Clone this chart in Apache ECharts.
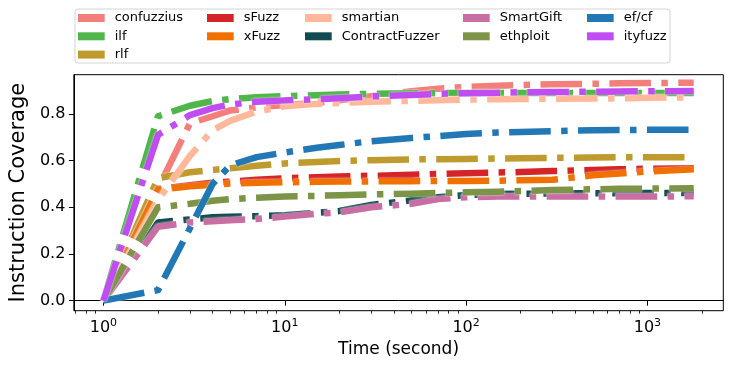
<!DOCTYPE html>
<html>
<head>
<meta charset="utf-8">
<script src="https://cdn.jsdelivr.net/npm/echarts@6/dist/echarts.min.js"></script>
<style>
html, body { margin: 0; padding: 0; background: #fff; }
#chart { width: 731px; height: 365px; }
</style>
</head>
<body>
<div id="chart"></div>
<script>
// time points (seconds) shared by every tool
const times = [1, 2, 3, 4, 5, 7, 10, 15, 20, 30, 50, 70, 100, 150, 200, 300, 500, 700, 1000, 1800]

const confuzzius = [0, 0.48, 0.76, 0.79, 0.815, 0.828, 0.838, 0.847, 0.858, 0.876, 0.897, 0.908, 0.916, 0.921, 0.924, 0.927, 0.929, 0.931, 0.932, 0.934]
const ilf = [0, 0.79, 0.835, 0.855, 0.864, 0.871, 0.876, 0.88, 0.883, 0.886, 0.888, 0.889, 0.89, 0.89, 0.89, 0.89, 0.89, 0.89, 0.89, 0.89]
const rlf = [0, 0.525, 0.55, 0.56, 0.567, 0.578, 0.588, 0.594, 0.598, 0.602, 0.605, 0.606, 0.607, 0.609, 0.61, 0.612, 0.613, 0.614, 0.614, 0.614]
const sFuzz = [0, 0.478, 0.495, 0.505, 0.51, 0.518, 0.524, 0.529, 0.532, 0.535, 0.539, 0.543, 0.546, 0.549, 0.551, 0.555, 0.56, 0.563, 0.565, 0.567]
const xFuzz = [0, 0.475, 0.49, 0.497, 0.502, 0.505, 0.507, 0.509, 0.51, 0.511, 0.512, 0.513, 0.513, 0.514, 0.516, 0.518, 0.537, 0.545, 0.553, 0.563]
const smartian = [0, 0.43, 0.62, 0.73, 0.77, 0.81, 0.833, 0.843, 0.847, 0.852, 0.856, 0.859, 0.861, 0.863, 0.864, 0.865, 0.866, 0.867, 0.869, 0.871]
const contractFuzzer = [0, 0.335, 0.348, 0.357, 0.36, 0.362, 0.366, 0.376, 0.384, 0.41, 0.43, 0.443, 0.452, 0.457, 0.458, 0.459, 0.46, 0.46, 0.461, 0.461]
const smartGift = [0, 0.317, 0.335, 0.34, 0.344, 0.35, 0.36, 0.372, 0.378, 0.4, 0.415, 0.435, 0.443, 0.446, 0.446, 0.446, 0.446, 0.446, 0.446, 0.447]
const ethploit = [0, 0.4, 0.415, 0.428, 0.435, 0.441, 0.446, 0.449, 0.452, 0.455, 0.458, 0.461, 0.464, 0.467, 0.47, 0.474, 0.477, 0.479, 0.48, 0.482]
const efcf = [0, 0.045, 0.31, 0.5, 0.58, 0.615, 0.635, 0.655, 0.667, 0.683, 0.697, 0.705, 0.714, 0.72, 0.723, 0.726, 0.73, 0.731, 0.732, 0.732]
const ityfuzz = [0, 0.71, 0.795, 0.825, 0.84, 0.852, 0.858, 0.863, 0.867, 0.875, 0.881, 0.886, 0.889, 0.891, 0.893, 0.894, 0.895, 0.896, 0.897, 0.898]

// tick labels
const xMajorTicks = [1, 10, 100, 1000]
const xMinorTicks = [0.7, 0.8, 0.9, 2, 3, 4, 5, 6, 7, 8, 9, 20, 30, 40, 50, 60, 70, 80, 90,
  200, 300, 400, 500, 600, 700, 800, 900, 2000]
const yTicks = [0, 0.2, 0.4, 0.6, 0.8]

// draw order = matplotlib plot order
const names = ['confuzzius', 'ilf', 'rlf', 'sFuzz', 'xFuzz', 'smartian', 'ContractFuzzer',
  'SmartGift', 'ethploit', 'ef/cf', 'ityfuzz']
const values = [confuzzius, ilf, rlf, sFuzz, xFuzz, smartian, contractFuzzer,
  smartGift, ethploit, efcf, ityfuzz]
const colors = ['#f27f7a', '#4fb64a', '#bf9a2c', '#d42428', '#f07000', '#ffb99a', '#124c50',
  '#c96ea3', '#7b9447', '#2278b5', '#c04df2']

// legend is filled column by column like matplotlib ncol=5
const legendCols = [
  ['confuzzius', 'ilf', 'rlf'],
  ['sFuzz', 'xFuzz'],
  ['smartian', 'ContractFuzzer'],
  ['SmartGift', 'ethploit'],
  ['ef/cf', 'ityfuzz'],
]
const legendLeft = [78, 207, 305, 463, 587]

const font = 'DejaVu Sans'
const lw = 6.5

const series = names.map((name, i) => ({
  name: name,
  type: 'line',
  data: times.map((t, j) => [t, values[i][j]]),
  showSymbol: false,
  symbol: 'none',
  z: 2 + i,
  itemStyle: { color: colors[i] },
  lineStyle: {
    color: colors[i],
    width: lw,
    type: [6.4 * lw, 1.6 * lw, 1.0 * lw, 1.6 * lw], // dash-dot
    cap: 'butt',
    join: 'round',
    // thin white halo like the path effect in the original
    shadowColor: 'rgba(255,255,255,0.9)',
    shadowBlur: 2,
  },
  emphasis: { disabled: true },
}))

const legends = legendCols.map((col, i) => ({
  data: col,
  orient: 'vertical',
  left: legendLeft[i],
  top: 11,
  padding: 0,
  itemGap: 4.3,
  itemWidth: 26.7,
  itemHeight: 8,
  icon: 'rect',
  selectedMode: false,
  textStyle: { fontFamily: font, fontSize: 13, color: '#000', lineHeight: 14, padding: [0, 0, 0, 5] },
}))

const chart = echarts.init(document.getElementById('chart'), null, { renderer: 'canvas' })
chart.setOption({
  animation: false,
  backgroundColor: '#fff',
  textStyle: { fontFamily: font },
  graphic: [{
    type: 'rect',
    shape: { x: 75, y: 9, width: 595, height: 54, r: 3 },
    style: { fill: '#fff', stroke: '#d4d4d4', lineWidth: 1 },
    z: -1,
  }],
  legend: legends,
  grid: {
    left: 67.7, right: 7.7, top: 74.7, bottom: 54.3,
    show: true, borderColor: '#000', borderWidth: 1,
    containLabel: false,
  },
  xAxis: [
    {
      type: 'log',
      logBase: 10,
      min: 0.687,
      max: 2620,
      position: 'bottom',
      name: 'Time (second)',
      nameLocation: 'middle',
      nameGap: 29,
      nameTextStyle: { fontFamily: font, fontSize: 17, color: '#000' },
      axisLine: { show: true, lineStyle: { color: '#000', width: 1 } },
      axisTick: { show: true, length: 5, customValues: xMajorTicks, lineStyle: { color: '#000', width: 1 } },
      axisLabel: {
        customValues: xMajorTicks,
        margin: 7,
        formatter: v => '{b|10}{s|' + Math.round(Math.log10(v)) + '}',
        rich: {
          b: { fontFamily: font, fontSize: 16, color: '#000' },
          s: { fontFamily: font, fontSize: 11, color: '#000', padding: [0, 0, 9, 0] },
        },
      },
      splitLine: { show: false },
    },
    {
      // minor ticks only
      type: 'log',
      logBase: 10,
      min: 0.687,
      max: 2620,
      position: 'bottom',
      axisLine: { show: false },
      axisTick: { show: true, length: 3, customValues: xMinorTicks, lineStyle: { color: '#000', width: 0.8 } },
      axisLabel: { show: false },
      splitLine: { show: false },
    },
  ],
  yAxis: {
    type: 'value',
    min: -0.043,
    max: 0.968,
    name: 'Instruction Coverage',
    nameLocation: 'middle',
    nameGap: 38,
    nameTextStyle: { fontFamily: font, fontSize: 21, color: '#000' },
    axisLine: { show: true, lineStyle: { color: '#000', width: 1 } },
    axisTick: { show: true, length: 5, customValues: yTicks, lineStyle: { color: '#000', width: 1 } },
    axisLabel: {
      customValues: yTicks,
      margin: 8.5,
      fontFamily: font,
      fontSize: 16,
      color: '#000',
      formatter: v => v.toFixed(1),
    },
    splitLine: { show: false },
  },
  series: series,
})
</script>
</body>
</html>
